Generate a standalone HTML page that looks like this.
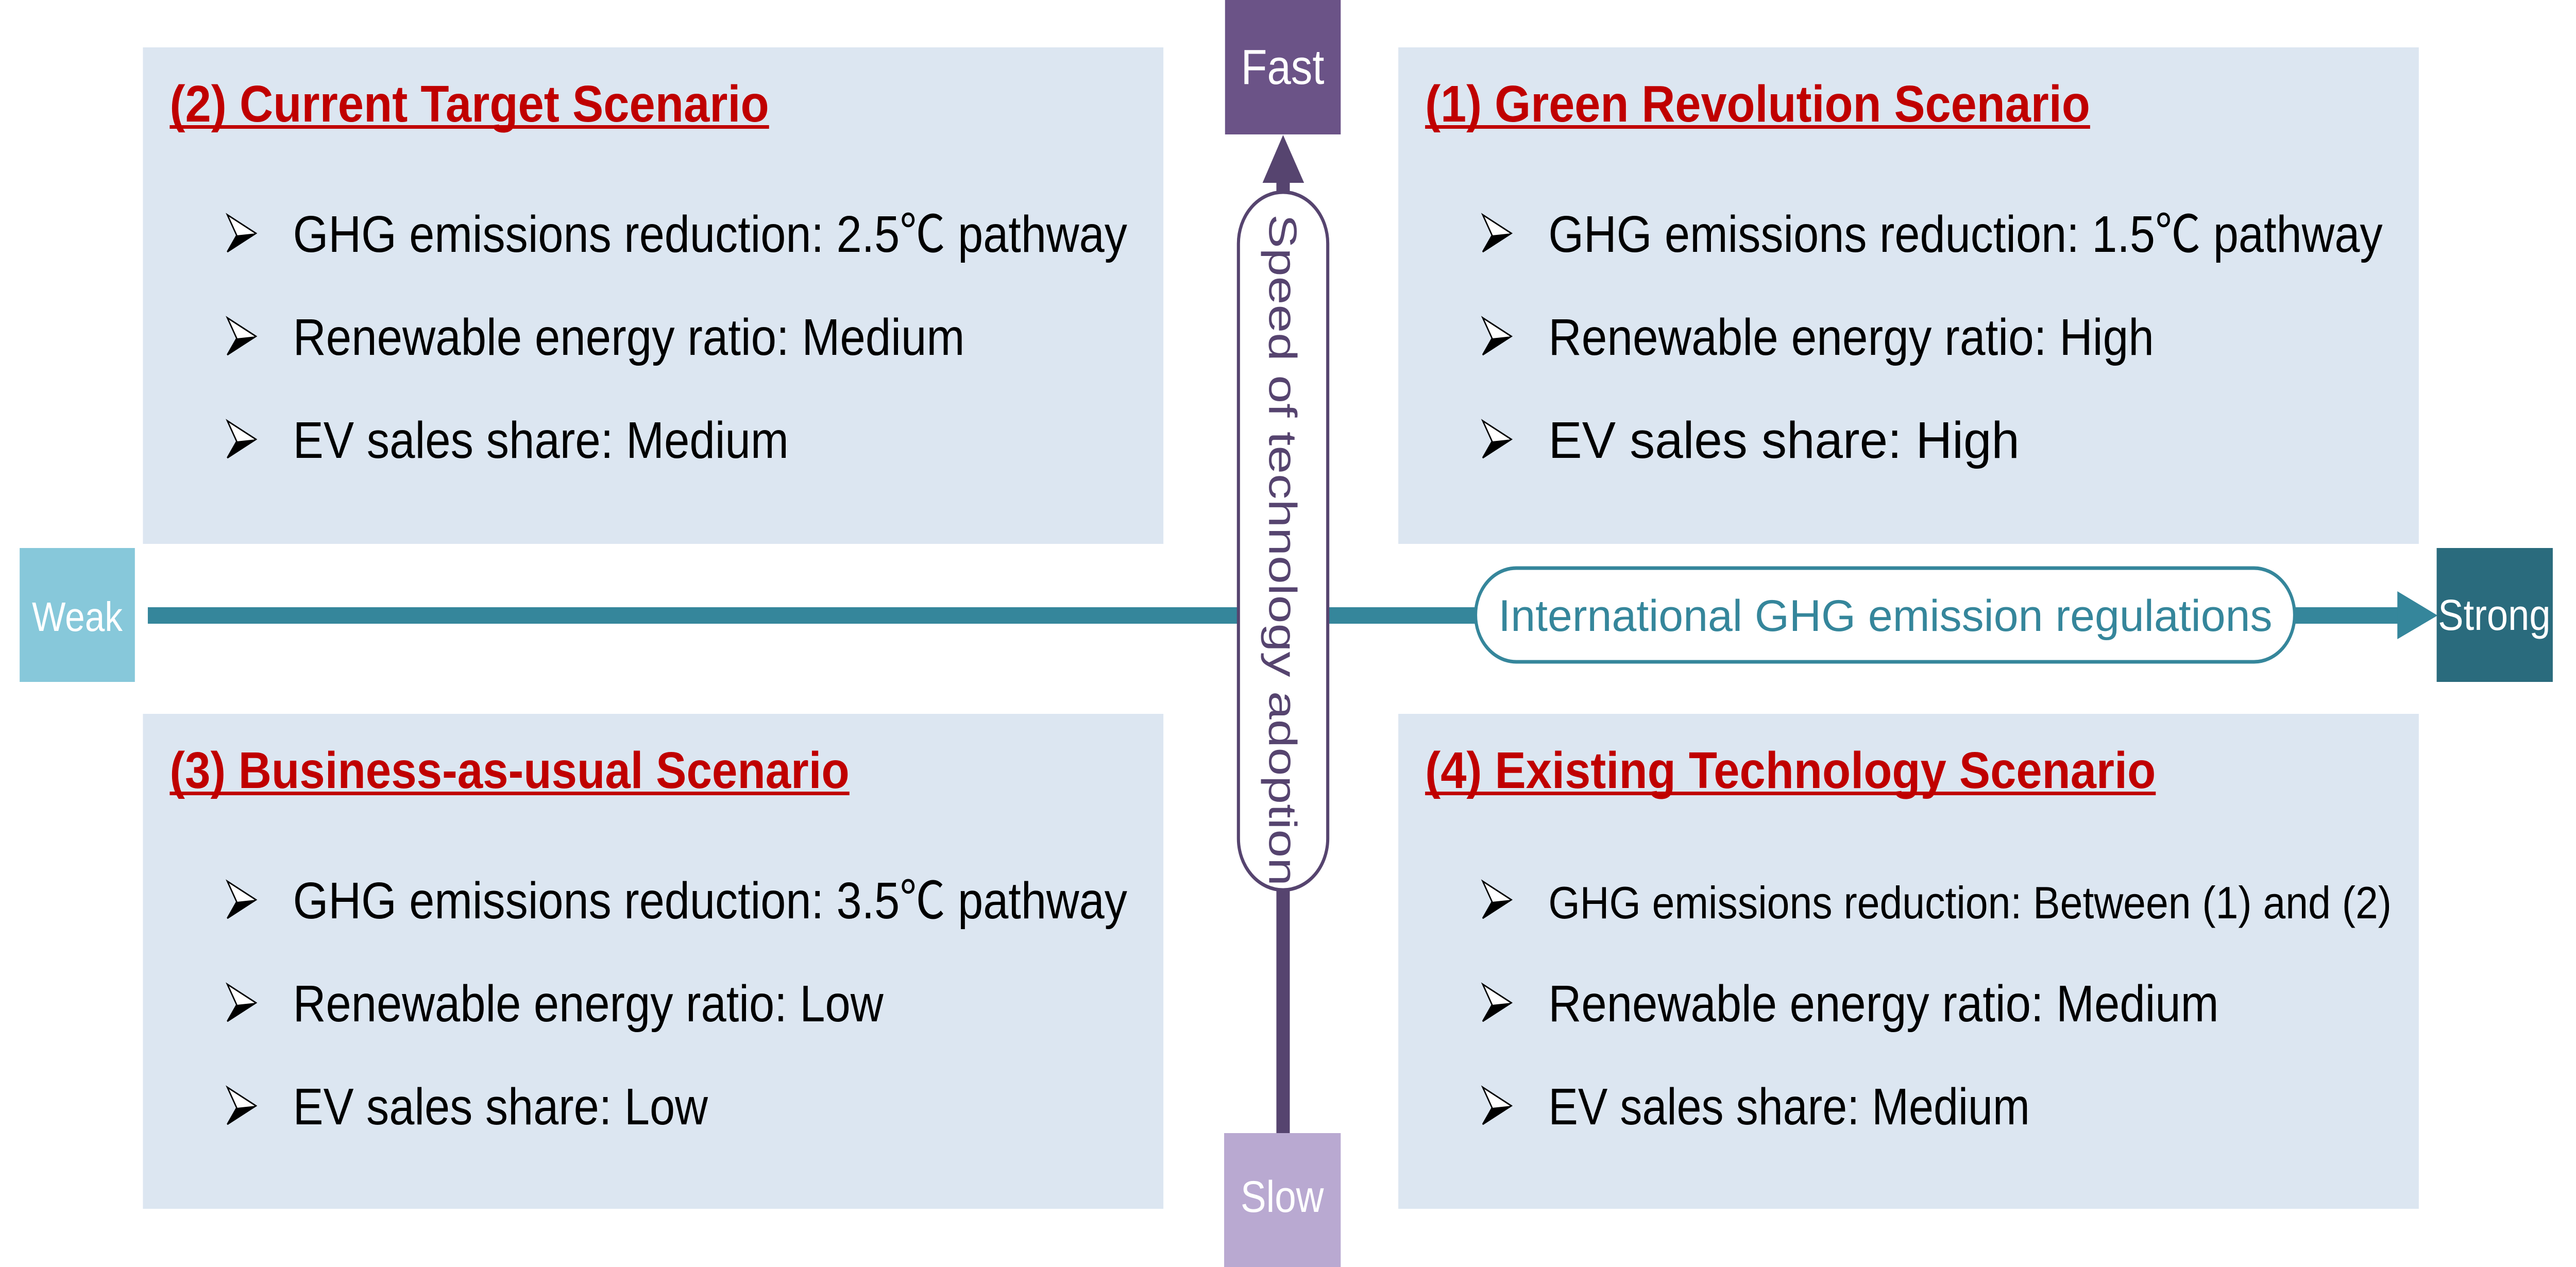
<!DOCTYPE html>
<html><head><meta charset="utf-8"><style>html,body{margin:0;padding:0;background:#fff;width:100%;height:100%;overflow:hidden}svg{display:block;width:100vw;height:100vh}</style></head>
<body>
<svg viewBox="0 0 5768 2460" preserveAspectRatio="none" xmlns="http://www.w3.org/2000/svg" font-family="'Liberation Sans', 'Noto Sans CJK JP', sans-serif">
<defs>
<g id="b"><polygon points="0,0 64,36 0,72 21,40" fill="#fff" stroke="#000" stroke-width="3"/><polygon points="21,40 64,36 0,72" fill="#000"/></g>
</defs>
<rect x="320" y="92" width="2285" height="964" fill="#dce6f1"/>
<rect x="3131" y="92" width="2285" height="964" fill="#dce6f1"/>
<rect x="320" y="1386" width="2285" height="961" fill="#dce6f1"/>
<rect x="3131" y="1386" width="2285" height="961" fill="#dce6f1"/>

<rect x="44" y="1064" width="258" height="260" fill="#87c8da"/>
<text x="173" y="1225" font-size="80" fill="#fff" text-anchor="middle">Weak</text>
<rect x="331" y="1179" width="5040" height="32" fill="#35869b"/>
<polygon points="5368,1148 5458,1195 5368,1241" fill="#35869b"/>
<rect x="3304" y="1103" width="1834" height="182" rx="91" fill="#fff" stroke="#35869b" stroke-width="7"/>
<text x="3355" y="1225" font-size="86" fill="#35869b" textLength="1733" lengthAdjust="spacingAndGlyphs">International GHG emission regulations</text>
<rect x="5456" y="1064" width="260" height="260" fill="#2a6b7d"/>
<text x="5459" y="1223" font-size="84" fill="#fff" textLength="252" lengthAdjust="spacingAndGlyphs">Strong</text>

<rect x="2743" y="0" width="259" height="261" fill="#6b5387"/>
<text x="2872" y="163" font-size="96" fill="#fff" text-anchor="middle">Fast</text>
<rect x="2858" y="340" width="30" height="1870" fill="#56446f"/>
<polygon points="2827,355 2873,262 2920,355" fill="#56446f"/>
<rect x="2773" y="373" width="200" height="1355" rx="100" fill="#fff" stroke="#56446f" stroke-width="7"/>
<text transform="translate(2842,416) rotate(90)" x="0" y="0" font-size="88" fill="#56446f" textLength="1304" lengthAdjust="spacingAndGlyphs">Speed of technology adoption</text>
<rect x="2741" y="2200" width="261" height="260" fill="#b9a9d1"/>
<text x="2871" y="2353" font-size="86" fill="#fff" text-anchor="middle">Slow</text>

<text x="380" y="236" font-size="100" font-weight="bold" fill="#c00000" textLength="1342" lengthAdjust="spacingAndGlyphs">(2) Current Target Scenario</text>
<rect x="380" y="243" width="1342" height="7" fill="#c00000"/>
<use href="#b" x="509" y="417"/><text x="656" y="489" font-size="100" textLength="1868" lengthAdjust="spacingAndGlyphs">GHG emissions reduction: 2.5℃ pathway</text>
<use href="#b" x="509" y="617"/><text x="656" y="689" font-size="100" textLength="1504" lengthAdjust="spacingAndGlyphs">Renewable energy ratio: Medium</text>
<use href="#b" x="509" y="817"/><text x="656" y="889" font-size="100" textLength="1110" lengthAdjust="spacingAndGlyphs">EV sales share: Medium</text>

<text x="3191" y="236" font-size="100" font-weight="bold" fill="#c00000" textLength="1489" lengthAdjust="spacingAndGlyphs">(1) Green Revolution Scenario</text>
<rect x="3191" y="243" width="1489" height="7" fill="#c00000"/>
<use href="#b" x="3320" y="417"/><text x="3467" y="489" font-size="100" textLength="1868" lengthAdjust="spacingAndGlyphs">GHG emissions reduction: 1.5℃ pathway</text>
<use href="#b" x="3320" y="617"/><text x="3467" y="689" font-size="100" textLength="1356" lengthAdjust="spacingAndGlyphs">Renewable energy ratio: High</text>
<use href="#b" x="3320" y="817"/><text x="3467" y="889" font-size="100" textLength="1055" lengthAdjust="spacingAndGlyphs">EV sales share: High</text>

<text x="380" y="1530" font-size="100" font-weight="bold" fill="#c00000" textLength="1522" lengthAdjust="spacingAndGlyphs">(3) Business-as-usual Scenario</text>
<rect x="380" y="1537" width="1522" height="7" fill="#c00000"/>
<use href="#b" x="509" y="1711"/><text x="656" y="1783" font-size="100" textLength="1868" lengthAdjust="spacingAndGlyphs">GHG emissions reduction: 3.5℃ pathway</text>
<use href="#b" x="509" y="1911"/><text x="656" y="1983" font-size="100" textLength="1322" lengthAdjust="spacingAndGlyphs">Renewable energy ratio: Low</text>
<use href="#b" x="509" y="2111"/><text x="656" y="2183" font-size="100" textLength="929" lengthAdjust="spacingAndGlyphs">EV sales share: Low</text>

<text x="3191" y="1530" font-size="100" font-weight="bold" fill="#c00000" textLength="1636" lengthAdjust="spacingAndGlyphs">(4) Existing Technology Scenario</text>
<rect x="3191" y="1537" width="1636" height="7" fill="#c00000"/>
<use href="#b" x="3320" y="1711"/><text x="3467" y="1783" font-size="88" textLength="1888" lengthAdjust="spacingAndGlyphs">GHG emissions reduction: Between (1) and (2)</text>
<use href="#b" x="3320" y="1911"/><text x="3467" y="1983" font-size="100" textLength="1501" lengthAdjust="spacingAndGlyphs">Renewable energy ratio: Medium</text>
<use href="#b" x="3320" y="2111"/><text x="3467" y="2183" font-size="100" textLength="1078" lengthAdjust="spacingAndGlyphs">EV sales share: Medium</text>
</svg>
</body></html>
